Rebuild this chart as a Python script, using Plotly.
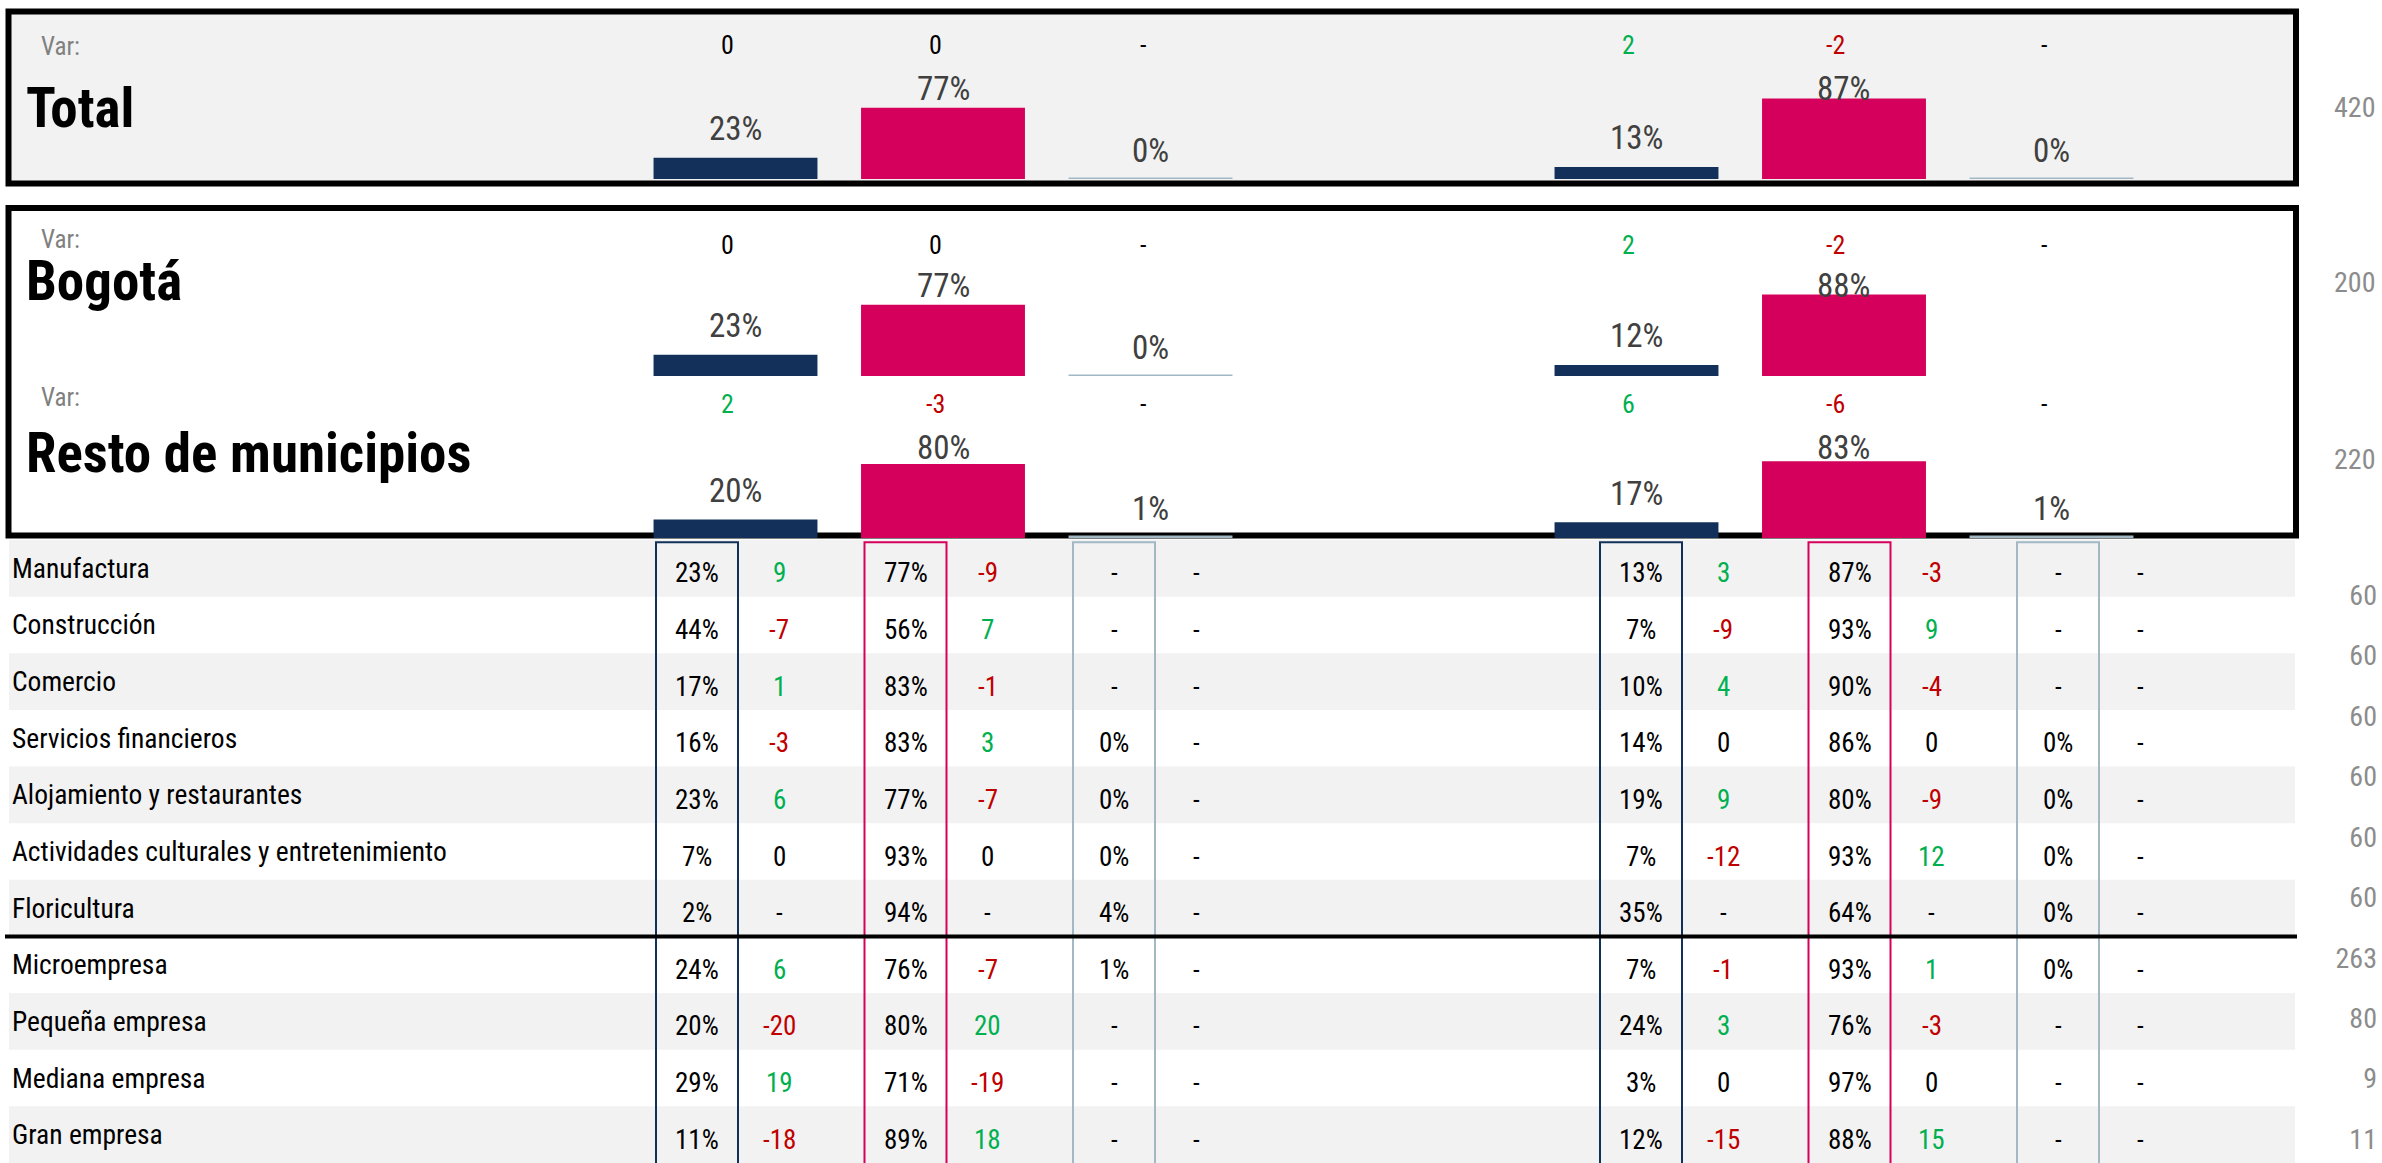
import plotly.graph_objects as go

W, H = 2382, 1163
FONT = "Roboto Condensed, Liberation Sans, sans-serif"
NAVY = "#12305A"
MAGENTA = "#D5005B"
GRAYBLUE = "#A3B8C5"
GREEN = "#00B050"
RED = "#C00000"
BAND = "#F2F2F2"
LABEL_GRAY = "#404040"
N_GRAY = "#8C8C8C"

# ---------------- data ----------------
series = ["Serie 1", "Serie 2", "Serie 3"]
sections = ["Total", "Bogotá", "Resto de municipios"]
section_n = [420, 200, 220]

total_left_pct = [23, 77, 0]
total_left_var = [0, 0, None]
total_right_pct = [13, 87, 0]
total_right_var = [2, -2, None]

bogota_left_pct = [23, 77, 0]
bogota_left_var = [0, 0, None]
bogota_right_pct = [12, 88, None]
bogota_right_var = [2, -2, None]

resto_left_pct = [20, 80, 1]
resto_left_var = [2, -3, None]
resto_right_pct = [17, 83, 1]
resto_right_var = [6, -6, None]

row_labels = ["Manufactura", "Construcción", "Comercio", "Servicios financieros",
              "Alojamiento y restaurantes", "Actividades culturales y entretenimiento",
              "Floricultura", "Microempresa", "Pequeña empresa", "Mediana empresa",
              "Gran empresa"]

left_p1 = [23, 44, 17, 16, 23, 7, 2, 24, 20, 29, 11]
left_v1 = [9, -7, 1, -3, 6, 0, None, 6, -20, 19, -18]
left_p2 = [77, 56, 83, 83, 77, 93, 94, 76, 80, 71, 89]
left_v2 = [-9, 7, -1, 3, -7, 0, None, -7, 20, -19, 18]
left_p3 = [None, None, None, 0, 0, 0, 4, 1, None, None, None]
left_v3 = [None] * 11

right_p1 = [13, 7, 10, 14, 19, 7, 35, 7, 24, 3, 12]
right_v1 = [3, -9, 4, 0, 9, -12, None, -1, 3, 0, -15]
right_p2 = [87, 93, 90, 86, 80, 93, 64, 93, 76, 97, 88]
right_v2 = [-3, 9, -4, 0, -9, 12, None, 1, -3, 0, 15]
right_p3 = [None, None, None, 0, 0, 0, 0, 0, None, None, None]
right_v3 = [None] * 11

row_n = [60, 60, 60, 60, 60, 60, 263, 80, 9, 11]

# ---------------- helpers ----------------
def fx(px):
    return px / W


def fy(px):
    return 1 - px / H


def pct_text(v):
    return "-" if v is None else f"{v}%"


def var_text(v):
    return "-" if v is None else f"{v}"


def var_color(v):
    if v is None or v == 0:
        return "black"
    return GREEN if v > 0 else RED


fig = go.Figure()
axes = {}
annotations = []
shapes = []

# ---------------- section boxes ----------------
shapes.append(dict(type="rect", xref="paper", yref="paper", x0=fx(8.5), x1=fx(2296),
                   y0=fy(183.5), y1=fy(11.5), line=dict(color="black", width=6),
                   fillcolor=BAND, layer="below"))
shapes.append(dict(type="rect", xref="paper", yref="paper", x0=fx(8.5), x1=fx(2296),
                   y0=fy(535.5), y1=fy(208), line=dict(color="black", width=6),
                   fillcolor="white", layer="below"))

# ---------------- bar panels ----------------
PX_PER_PCT = 0.925
Y_MAX = 160
LABEL_CAP = 67
sec_baseline = [179, 376, 538]
sec_var_px = [45, 245, 404]
sec_varlabel_px = [47, 240, 398]
sec_title_px = [108, 281, 453]
sec_n_px = [107, 283, 459]
group_domains = [(631.75, 1254.25), (1532.75, 2155.25)]

sec_data = [
    [(total_left_pct, total_left_var), (total_right_pct, total_right_var)],
    [(bogota_left_pct, bogota_left_var), (bogota_right_pct, bogota_right_var)],
    [(resto_left_pct, resto_left_var), (resto_right_pct, resto_right_var)],
]

for s in range(3):
    base = sec_baseline[s]
    top = base - Y_MAX * PX_PER_PCT
    for g in range(2):
        k = s * 2 + g + 1
        xa, ya = f"x{k}", f"y{k}"
        d0, d1 = group_domains[g]
        axes[f"xaxis{k}"] = dict(domain=[fx(d0), fx(d1)], type="category",
                                 categoryarray=series, range=[-0.5, 2.5],
                                 visible=False, anchor=ya, fixedrange=True)
        axes[f"yaxis{k}"] = dict(domain=[fy(base), fy(top)], range=[0, Y_MAX],
                                 visible=False, anchor=xa, fixedrange=True)
        pct, var = sec_data[s][g]
        fig.add_trace(go.Bar(x=series, y=pct, marker=dict(color=[NAVY, MAGENTA, GRAYBLUE], line=dict(width=0)),
                             xaxis=xa, yaxis=ya, hoverinfo="skip"))
        if pct[2] is not None:
            # thin edge marking the (near-zero) third series
            fig.add_trace(go.Bar(x=[series[2]], y=[1.6], base=[pct[2]],
                                 marker=dict(color=GRAYBLUE, line=dict(width=0)),
                                 xaxis=xa, yaxis=ya, hoverinfo="skip"))
        for i, v in enumerate(pct):
            if v is None:
                continue
            annotations.append(dict(x=series[i], y=min(v, LABEL_CAP), xref=xa, yref=ya,
                                    text=pct_text(v), showarrow=False, yshift=29,
                                    font=dict(family=FONT, size=33, color=LABEL_GRAY)))
        var_y = (base - sec_var_px[s]) / PX_PER_PCT
        for i, v in enumerate(var):
            annotations.append(dict(x=series[i], y=var_y, xref=xa, yref=ya, xshift=-8,
                                    text=var_text(v), showarrow=False,
                                    font=dict(family=FONT, size=26, color=var_color(v))))

    annotations.append(dict(x=fx(39), y=fy(sec_varlabel_px[s]), xref="paper", yref="paper",
                            xanchor="left", yanchor="middle", text="Var:", showarrow=False,
                            font=dict(family=FONT, size=25, color="#808080")))
    annotations.append(dict(x=fx(24), y=fy(sec_title_px[s]), xref="paper", yref="paper",
                            xanchor="left", yanchor="middle", text=f"<b>{sections[s]}</b>",
                            showarrow=False, font=dict(family=FONT, size=55, color="black")))
    annotations.append(dict(x=fx(2377), y=fy(sec_n_px[s]), xref="paper", yref="paper",
                            xanchor="right", yanchor="middle", text=str(section_n[s]),
                            showarrow=False, font=dict(family=FONT, size=28, color=N_GRAY)))

# ---------------- table ----------------
TABLE_TOP = 540
axes["xaxis7"] = dict(domain=[0, 1], range=[0, W], visible=False, anchor="y7", fixedrange=True)
axes["yaxis7"] = dict(domain=[0, fy(TABLE_TOP)], type="category", categoryarray=row_labels,
                      range=[len(row_labels) - 0.5, -0.5], visible=False, anchor="x7",
                      fixedrange=True)
axes["yaxis8"] = dict(overlaying="y7", range=[9.35, -0.96], visible=False, anchor="x7",
                      fixedrange=True)

nrows = len(row_labels)
for i in range(nrows):
    if i % 2 == 0:
        shapes.append(dict(type="rect", xref="x7", yref="y7", x0=9, x1=2295,
                           y0=i - 0.5, y1=i + 0.5, fillcolor=BAND, line=dict(width=0),
                           layer="below"))

GROUP_START = [656, 1600]
COL_PITCH = 208.5
CELL_W = 82
outline_colors = [NAVY, MAGENTA, GRAYBLUE]
for gs in GROUP_START:
    for c in range(3):
        x0 = gs + c * COL_PITCH
        shapes.append(dict(type="rect", xref="x7", yref="y7", x0=x0, x1=x0 + CELL_W,
                           y0=-0.46, y1=nrows + 0.5, fillcolor="rgba(0,0,0,0)",
                           line=dict(color=outline_colors[c], width=2), layer="below"))

# separator between sectors and company size
shapes.append(dict(type="line", xref="x7", yref="y7", x0=5, x1=2297, y0=6.5, y1=6.5,
                   line=dict(color="black", width=4), layer="below"))

table_groups = [
    [(left_p1, left_v1), (left_p2, left_v2), (left_p3, left_v3)],
    [(right_p1, right_v1), (right_p2, right_v2), (right_p3, right_v3)],
]
CELL_FONT = 27
for g, gs in enumerate(GROUP_START):
    for c, (pcol, vcol) in enumerate(table_groups[g]):
        xp = gs + c * COL_PITCH + CELL_W / 2
        xv = gs + c * COL_PITCH + CELL_W * 1.5
        for r, lab in enumerate(row_labels):
            annotations.append(dict(x=xp, y=lab, xref="x7", yref="y7", text=pct_text(pcol[r]),
                                    showarrow=False, yshift=-5,
                                    font=dict(family=FONT, size=CELL_FONT, color="black")))
            annotations.append(dict(x=xv, y=lab, xref="x7", yref="y7", text=var_text(vcol[r]),
                                    showarrow=False, yshift=-5,
                                    font=dict(family=FONT, size=CELL_FONT, color=var_color(vcol[r]))))

for r, lab in enumerate(row_labels):
    annotations.append(dict(x=10, y=lab, xref="x7", yref="y7", xanchor="left", text=lab,
                            showarrow=False, font=dict(family=FONT, size=27.5, color="black")))

fig.add_trace(go.Scatter(x=[2377] * len(row_n), y=list(range(len(row_n))), mode="text",
                         text=[str(n) for n in row_n], textposition="middle left",
                         textfont=dict(family=FONT, size=28, color=N_GRAY),
                         xaxis="x7", yaxis="y8", hoverinfo="skip"))

fig.update_layout(
    width=W, height=H, margin=dict(l=0, r=0, t=0, b=0),
    paper_bgcolor="white", plot_bgcolor="rgba(0,0,0,0)",
    showlegend=False, barmode="overlay", bargap=0.21,
    shapes=shapes, annotations=annotations,
    font=dict(family=FONT),
    **axes,
)

fig.write_html("out.html", config={"displayModeBar": False, "staticPlot": True},
               post_script="document.body.style.margin='0';")
